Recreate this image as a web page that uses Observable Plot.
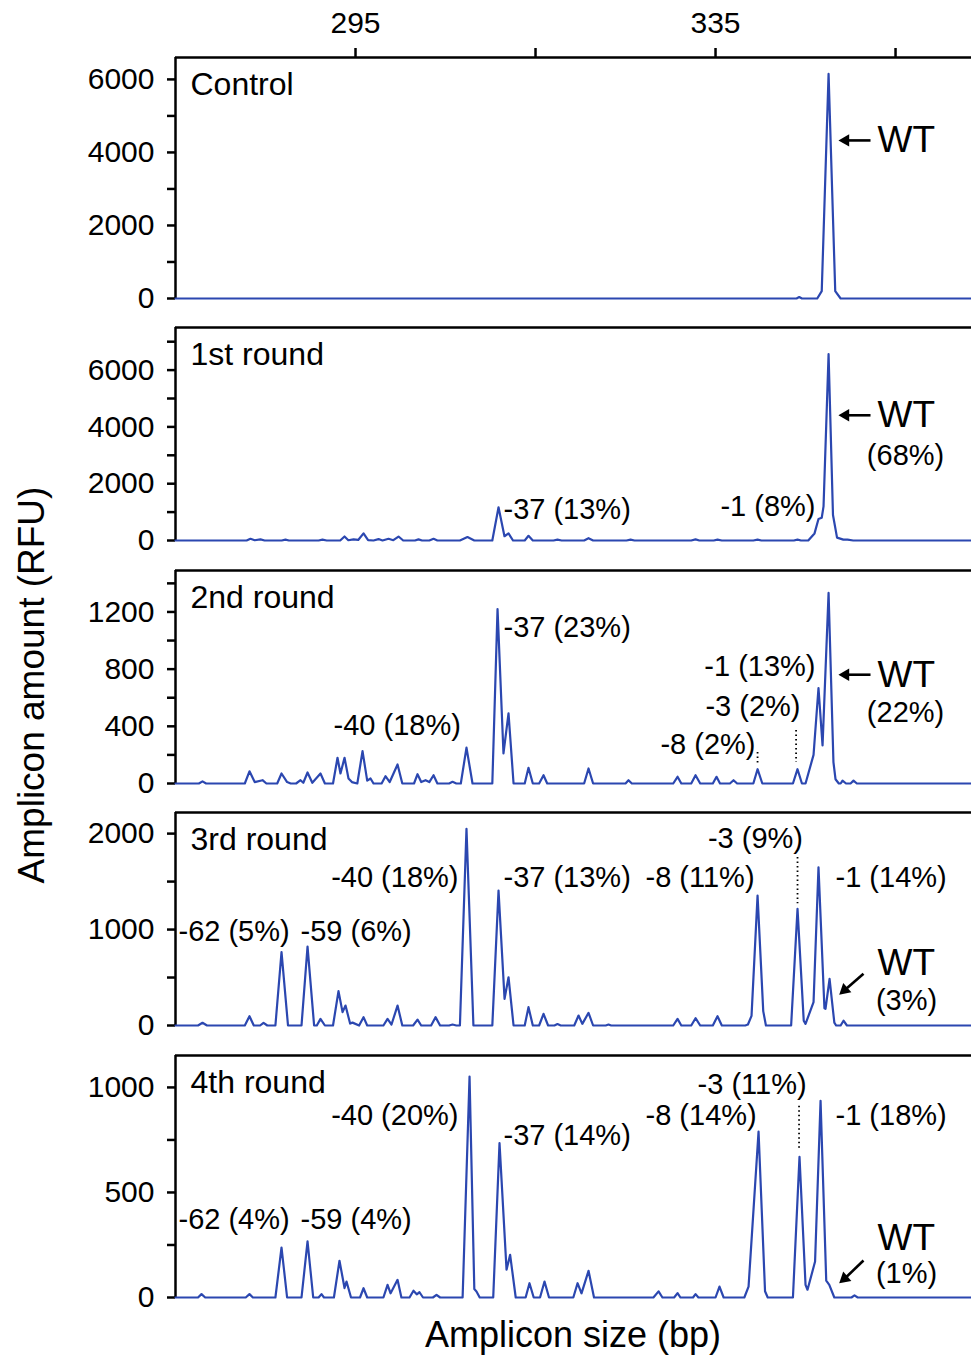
<!DOCTYPE html>
<html><head><meta charset="utf-8">
<script src="https://cdn.jsdelivr.net/npm/d3@7"></script>
<script src="https://cdn.jsdelivr.net/npm/@observablehq/plot@0.6"></script>
<style>
html,body{margin:0;padding:0;background:#fff;overflow:hidden;}
#fig{position:relative;width:971px;height:1355px;overflow:hidden;font-family:'Liberation Sans',Arial,Helvetica,sans-serif;color:#000;}
.panel{position:absolute;left:0;}
.xtitle{position:absolute;left:175px;width:796px;top:1315px;text-align:center;font-size:36px;line-height:40px;}
.ytitle{position:absolute;left:-268px;top:665px;width:600px;text-align:center;font-size:37px;line-height:40px;transform:rotate(-90deg);}
</style></head><body><div id="fig"></div>
<script>
// ---------- data (x in bp, y in RFU) ----------
const xDomain = [275, 363.44];
const xTicks = [295, 315, 335, 355];
const xTickLabels = ["295", "", "335", ""];

const panelNames = ["Control", "1st round", "2nd round", "3rd round", "4th round"];
const yMax = [6600, 7500, 1490, 2220, 1152];
const yMajor = [[0,2000,4000,6000],[0,2000,4000,6000],[0,400,800,1200],[0,1000,2000],[0,500,1000]];
const yMinor = [[1000,3000,5000],[1000,3000,5000,7000],[200,600,1000,1400],[500,1500],[250,750]];

const traceControl = [[275,0],[344.0,0],[344.3,40],[344.6,0],[346.3,0],[346.8,200],[347.56,6150],[348.3,200],[348.9,0],[363.44,0]];

const trace1st = [[275,0],
 [282.9,0],[283.33,60],[283.8,10],[284.44,40],[284.9,0],
 [286.8,0],[287.22,30],[287.6,0],
 [290.9,0],[291.33,30],[291.8,0],
 [293.3,0],[293.78,140],[294.2,10],[294.78,40],[295.3,20],[295.89,250],[296.4,10],[297.0,0],[297.56,50],[298.0,0],[298.67,60],[299.2,10],[299.78,140],[300.3,0],
 [301.6,0],[302.0,40],[302.4,0],
 [303.2,0],[303.67,60],[304.1,0],
 [306.6,0],[307.44,120],[308.2,0],
 [310.2,0],[310.89,1170],[311.55,150],[312.0,250],[312.5,0],
 [313.8,0],[314.22,165],[314.7,0],
 [317.0,0],[317.44,30],[317.9,0],
 [320.4,0],[320.89,80],[321.4,0],
 [325.1,0],[325.56,30],[326.0,0],
 [332.3,0],[332.78,40],[333.2,0],
 [334.8,0],[335.22,30],[335.7,0],
 [339.2,0],[339.67,30],[340.1,0],
 [343.7,0],[344.11,30],[344.5,0],
 [345.3,0],[346.0,250],[346.44,760],[346.8,800],[347.0,1200],[347.56,6560],[348.05,900],[348.5,100],[349.2,30],[349.67,30],[350.3,0],
 [363.44,0]];

const trace2nd = [[275,0],
 [277.6,0],[278.0,15],[278.4,0],
 [282.7,0],[283.22,85],[283.8,10],[284.67,23],[285.1,0],
 [286.3,0],[286.78,70],[287.4,10],[287.8,0],
 [288.4,0],[288.89,23],[289.2,5],[289.67,77],[290.2,5],[291.11,70],[291.6,0],
 [292.5,0],[293.0,180],[293.33,70],[293.78,180],[294.22,35],[294.6,10],
 [295.2,0],[295.78,226],[296.3,20],[296.67,35],[297.0,0],
 [297.9,0],[298.33,51],[298.8,10],[299.67,133],[300.2,0],
 [301.5,0],[301.89,65],[302.3,10],[302.78,23],[303.2,10],[303.67,58],[304.1,0],
 [305.4,0],[305.78,12],[306.2,0],
 [306.7,0],[307.33,251],[308.0,0],
 [310.2,0],[310.78,1220],[311.44,210],[312.0,490],[312.56,0],
 [313.8,0],[314.22,110],[314.7,0],[315.4,0],[315.89,58],[316.3,0],
 [320.4,0],[320.89,105],[321.4,0],
 [325.0,0],[325.33,23],[325.7,0],
 [330.3,0],[330.78,47],[331.2,0],
 [332.3,0],[332.78,58],[333.3,0],
 [334.7,0],[335.11,47],[335.5,0],
 [336.6,0],[337.0,23],[337.4,0],
 [339.2,0],[339.67,100],[340.2,0],
 [343.6,0],[344.11,100],[344.6,0],
 [345.0,0],[345.89,200],[346.44,668],[346.89,267],[347.56,1333],[348.1,150],[348.33,30],[348.7,0],
 [348.9,0],[349.11,20],[349.5,0],[350.0,0],[350.33,20],[350.7,0],
 [363.44,0]];

const trace3rd = [[275,0],
 [277.5,0],[278.0,28],[278.5,0],
 [282.7,0],[283.22,97],[283.7,0],
 [284.4,0],[284.78,28],[285.2,0],
 [286.1,0],[286.78,764],[287.5,0],
 [289.0,0],[289.67,823],[290.4,0],
 [290.7,0],[291.11,69],[291.6,0],
 [292.5,0],[293.11,358],[293.56,139],[293.89,208],[294.4,20],[294.67,30],
 [295.4,0],[295.89,87],[296.3,0],
 [298.1,0],[298.56,69],[299.0,10],[299.67,208],[300.2,0],
 [301.4,0],[301.89,62],[302.3,0],
 [303.4,0],[303.89,87],[304.4,0],
 [305.4,0],[305.78,10],[306.2,0],
 [306.6,0],[307.33,2050],[308.1,0],
 [310.2,0],[310.89,1406],[311.56,278],[312.0,503],[312.56,0],
 [313.8,0],[314.22,191],[314.7,0],
 [315.4,0],[315.89,121],[316.4,0],
 [317.1,0],[317.44,15],[317.8,0],
 [319.3,0],[319.78,104],[320.2,17],[320.89,132],[321.4,0],
 [322.8,0],[323.11,10],[323.4,0],
 [330.3,0],[330.78,69],[331.2,0],
 [332.3,0],[332.78,76],[333.3,0],
 [334.7,0],[335.22,97],[335.7,0],
 [338.3,0],[338.6,10],[339.0,100],[339.67,1354],[340.3,150],[340.6,0],
 [343.4,0],[344.11,1215],[344.8,50],[345.0,17],[345.89,243],[346.44,1649],[347.1,180],[347.22,174],[347.67,486],[348.2,30],[348.4,0],
 [348.9,0],[349.22,50],[349.6,0],
 [363.44,0]];

const trace4th = [[275,0],
 [277.5,0],[277.89,16],[278.3,0],
 [282.8,0],[283.22,16],[283.6,0],
 [286.1,0],[286.78,238],[287.4,0],
 [289.0,0],[289.67,267],[290.3,0],
 [290.9,0],[291.22,16],[291.5,0],
 [292.6,0],[293.22,175],[293.78,45],[294.0,76],[294.5,0],
 [295.5,0],[295.89,44],[296.3,0],
 [298.1,0],[298.56,60],[298.9,20],[299.67,84],[300.1,0],
 [301.0,0],[301.44,32],[301.8,15],[302.11,25],[302.5,0],
 [303.6,0],[304.0,13],[304.4,0],
 [306.9,0],[307.67,1052],[308.2,40],[308.44,29],[308.8,0],
 [310.3,0],[311.0,735],[311.78,132],[312.18,203],[312.8,0],
 [313.9,0],[314.33,68],[314.8,0],
 [315.5,0],[316.0,76],[316.5,0],
 [319.2,0],[319.67,68],[320.11,20],[320.89,127],[321.5,0],
 [328.1,0],[328.67,29],[329.1,0],
 [330.4,0],[330.78,21],[331.1,0],
 [332.5,0],[332.78,16],[333.1,0],
 [335.0,0],[335.44,52],[335.9,0],
 [338.2,0],[338.67,52],[339.78,790],[340.5,30],[340.8,0],
 [343.6,0],[344.33,670],[345.0,60],[345.22,37],[346.06,171],[346.67,936],[347.3,80],[347.64,60],[348.2,0],
 [350.1,0],[350.44,10],[350.8,0],
 [363.44,0]];

const traces = [traceControl, trace1st, trace2nd, trace3rd, trace4th];

// annotations: [text, bp, RFU, anchor]
const notesControl = [];
const notes1st = [["-37 (13%)",311.44,1093,"start"],["-1 (8%)",346.11,1199,"end"],["(68%)",356.11,2998,"middle"]];
const notes2nd = [["-37 (23%)",311.44,1089,"start"],["-40 (18%)",292.56,405,"start"],["-1 (13%)",346.11,817,"end"],["-3 (2%)",344.44,537,"end"],["-8 (2%)",339.44,272,"end"],["(22%)",356.11,496,"middle"]];
const notes3rd = [["-3 (9%)",339.44,1949,"middle"],["-40 (18%)",306.44,1542,"end"],["-37 (13%)",311.44,1542,"start"],["-8 (11%)",327.22,1542,"start"],["-1 (14%)",348.33,1542,"start"],["-62 (5%)",275.33,979,"start"],["-59 (6%)",288.89,979,"start"],["(3%)",356.22,260,"middle"]];
const notes4th = [["-3 (11%)",339.06,1014,"middle"],["-40 (20%)",306.44,866,"end"],["-8 (14%)",327.22,866,"start"],["-1 (18%)",348.33,866,"start"],["-37 (14%)",311.44,771,"start"],["-62 (4%)",275.33,371,"start"],["-59 (4%)",288.89,371,"start"],["(1%)",356.22,114,"middle"]];
const notes = [notesControl, notes1st, notes2nd, notes3rd, notes4th];

// "WT" label [bp, RFU]; arrow shaft [x1,y1,x2,y2]; arrow head centre [bp, RFU]
const wtLabel = [[353.0,4329],[353.0,4409],[353.0,761],[353.0,646],[353.0,281]];
const wtShaft = [[352.22,4329,349.4,4329],[352.22,4409,349.4,4409],[352.22,761,349.4,761],[351.44,540,349.3,365],[351.44,176,349.3,88]];
const wtHead = [[349.45,4329],[349.45,4409],[349.45,761],[349.34,370],[349.34,90]];
const headRotate = [-90, -90, -90, -131, -131];

// dotted leader lines [bp, RFU top, RFU bottom]
const leaders = [[], [], [[339.67,216,140],[343.95,370,147]], [[344.11,1750,1270]], [[344.28,910,710]]];

// ---------- layout ----------
const panelTop = [57, 327, 570, 812, 1055];
const panelBottom = [298, 540, 783, 1025, 1297];
const BLUE = "#2b47b0";
const FONT = "'Liberation Sans', Arial, Helvetica, sans-serif";

const fig = document.getElementById("fig");

for (let i = 0; i < 5; i++) {
  const mt = i === 0 ? 57 : 10, mb = 4;
  const h = panelBottom[i] - panelTop[i];
  const noteOpts = a => ({x: d => d[1], y: d => d[2], text: d => d[0], textAnchor: a, fontSize: 29, fill: "black"});
  const marks = [
    Plot.ruleY([yMax[i]], {stroke: "black", strokeWidth: 2.5}),
    Plot.ruleX([xDomain[0]], {stroke: "black", strokeWidth: 2.5}),
    Plot.axisY({ticks: yMajor[i], tickSize: 8, tickPadding: 13, strokeWidth: 2.5, fontSize: 30, tickFormat: d => String(d)}),
    Plot.axisY({ticks: yMinor[i], tickSize: 8, strokeWidth: 2.5, tickFormat: () => ""}),
    Plot.line(traces[i], {x: d => d[0], y: d => d[1], stroke: BLUE, strokeWidth: 2.2, strokeLinejoin: "round"}),
    Plot.text([panelNames[i]], {frameAnchor: "top-left", dx: 15, dy: 27, lineAnchor: "middle", text: d => d, textAnchor: "start", fontSize: 32, fill: "black"}),
    Plot.text(notes[i].filter(d => d[3] === "start"), noteOpts("start")),
    Plot.text(notes[i].filter(d => d[3] === "end"), noteOpts("end")),
    Plot.text(notes[i].filter(d => d[3] === "middle"), noteOpts("middle")),
    Plot.text([wtLabel[i]], {x: d => d[0], y: d => d[1], text: () => "WT", textAnchor: "start", fontSize: 37, fill: "black"}),
    Plot.link([wtShaft[i]], {x1: d => d[0], y1: d => d[1], x2: d => d[2], y2: d => d[3], stroke: "black", strokeWidth: 2.6}),
    Plot.dot([wtHead[i]], {x: d => d[0], y: d => d[1], symbol: "triangle", r: 4.6, fill: "black", stroke: "none", rotate: headRotate[i]}),
    Plot.ruleX(leaders[i], {x: d => d[0], y1: d => d[1], y2: d => d[2], stroke: "black", strokeWidth: 1.8, strokeDasharray: "1.5,3"})
  ];
  if (i === 0) {
    marks.push(Plot.axisX({anchor: "top", ticks: xTicks, tickSize: 10, tickPadding: 15, strokeWidth: 2.5, fontSize: 30,
      tickFormat: d => xTickLabels[xTicks.indexOf(d)]}));
  }
  const svg = Plot.plot({
    width: 971, height: mt + h + mb,
    marginLeft: 175, marginRight: 0, marginTop: mt, marginBottom: mb,
    x: {domain: xDomain, axis: i === 0 ? undefined : null},
    y: {domain: [0, yMax[i]]},
    style: {fontFamily: FONT, fontSize: "30px", color: "black", background: "transparent", overflow: "visible"},
    marks
  });
  const wrap = document.createElement("div");
  wrap.className = "panel";
  wrap.style.top = (panelTop[i] - mt) + "px";
  wrap.appendChild(svg);
  fig.appendChild(wrap);
}

const xt = document.createElement("div"); xt.className = "xtitle"; xt.textContent = "Amplicon size (bp)"; fig.appendChild(xt);
const yt = document.createElement("div"); yt.className = "ytitle"; yt.textContent = "Amplicon amount (RFU)"; fig.appendChild(yt);
</script></body></html>
